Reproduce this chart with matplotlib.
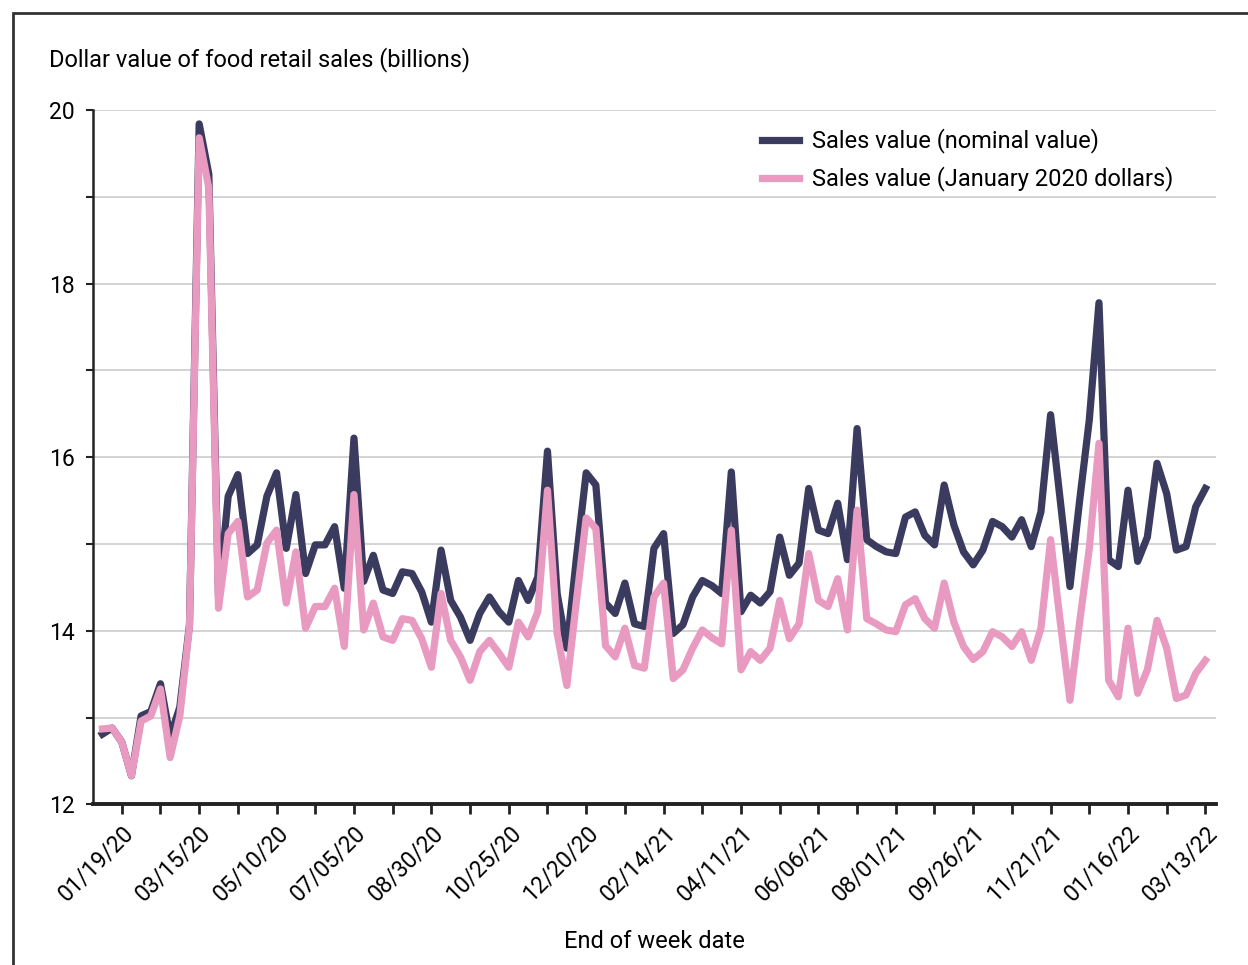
import matplotlib
matplotlib.use("Agg")
import matplotlib.pyplot as plt
from matplotlib.patches import Rectangle
import pandas as pd

plt.rcParams['font.family'] = ['Roboto', 'DejaVu Sans']

# weekly series, weeks ending 01/05/20 .. 03/13/22
weeks = pd.date_range('2020-01-05', periods=115, freq='7D')

nominal = [12.81, 12.88, 12.72, 12.33, 13.02, 13.07, 13.39, 12.78, 13.12, 14.07,
           19.84, 19.26,
           14.39, 15.55, 15.80, 14.89, 14.99, 15.55, 15.82, 14.95, 15.57, 14.66,
           14.99, 14.99, 15.20, 14.49, 16.22, 14.57, 14.87,
           14.47, 14.43, 14.68, 14.66, 14.45, 14.10, 14.93, 14.35, 14.16, 13.89,
           14.20, 14.39, 14.22, 14.10, 14.58, 14.35, 14.62,
           16.07, 14.43, 13.80, 14.85, 15.82, 15.68, 14.32, 14.20, 14.55, 14.08,
           14.05, 14.95, 15.12, 13.97, 14.07, 14.39, 14.58, 14.52,
           14.43, 15.83, 14.22, 14.41, 14.32, 14.45, 15.08, 14.64, 14.78, 15.64,
           15.16, 15.12, 15.47, 14.82, 16.33, 15.05, 14.97, 14.91, 14.89,
           15.31, 15.37, 15.10, 14.99, 15.68, 15.22, 14.91, 14.76, 14.93, 15.26,
           15.20, 15.08, 15.28, 14.97, 15.37, 16.49, 15.50, 14.51, 15.50, 16.43,
           17.78, 14.82, 14.74, 15.62, 14.80, 15.08, 15.93, 15.58, 14.93, 14.97,
           15.43, 15.64]

real_jan2020 = [12.87, 12.88, 12.72, 12.33, 12.96, 13.02, 13.33, 12.54, 13.02, 14.05,
                19.68, 19.10,
                14.26, 15.12, 15.26, 14.39, 14.47, 15.01, 15.16, 14.32, 14.91, 14.03,
                14.28, 14.28, 14.49, 13.82, 15.57, 14.01, 14.32,
                13.93, 13.89, 14.14, 14.12, 13.91, 13.58, 14.43, 13.89, 13.70, 13.43,
                13.76, 13.89, 13.74, 13.58, 14.10, 13.93, 14.22,
                15.62, 13.97, 13.37, 14.35, 15.30, 15.18, 13.83, 13.70, 14.03, 13.60,
                13.57, 14.39, 14.55, 13.45, 13.55, 13.80, 14.01, 13.92,
                13.85, 15.16, 13.55, 13.76, 13.66, 13.80, 14.35, 13.91, 14.08, 14.89,
                14.35, 14.28, 14.60, 14.01, 15.39, 14.14, 14.08, 14.01, 13.99,
                14.30, 14.37, 14.14, 14.03, 14.55, 14.10, 13.82, 13.67, 13.76, 13.99,
                13.93, 13.82, 13.99, 13.66, 14.03, 15.05, 14.10, 13.20, 14.10, 14.95,
                16.16, 13.43, 13.24, 14.03, 13.28, 13.55, 14.12, 13.80, 13.22, 13.26,
                13.51, 13.66]

labels = ['Sales value (nominal value)', 'Sales value (January 2020 dollars)']
navy = '#3b3a5f'
pink = '#e89ac1'

fig = plt.figure(figsize=(12.48, 9.65), dpi=100)
ax = fig.add_axes([0.0743, 0.1664, 0.9001, 0.7196])

ax.plot(weeks, nominal, color=navy, lw=5.2, label=labels[0], solid_joinstyle='round')
ax.plot(weeks, real_jan2020, color=pink, lw=5.2, label=labels[1], solid_joinstyle='round')

ax.set_ylim(12, 20)
ax.set_yticks([12, 14, 16, 18, 20])
ax.set_yticks([13, 15, 17, 19], minor=True)
ax.grid(axis='y', which='both', color='#cccccc', lw=1.2)
ax.set_axisbelow(True)

ax.set_xlim(weeks[0] - pd.Timedelta(days=7), weeks[-1] + pd.Timedelta(days=7.7))
ax.set_xticks(weeks[2::4])
ax.set_xticklabels([d.strftime('%m/%d/%y') if k % 2 == 0 else '' for k, d in enumerate(weeks[2::4])],
                   rotation=45, ha='right', rotation_mode='anchor')

ax.tick_params(axis='x', length=7, width=2, color='#222222', labelsize=16.5, pad=5)
ax.tick_params(axis='y', which='both', length=5, width=1.5, color='#222222', labelsize=16.5, pad=8)
for s in ['top', 'right']:
    ax.spines[s].set_visible(False)
ax.spines['left'].set_linewidth(1.8)
ax.spines['bottom'].set_linewidth(2.8)
ax.spines['left'].set_color('#222222')
ax.spines['bottom'].set_color('#222222')

ax.set_xlabel('End of week date', fontsize=17, labelpad=18)
fig.text(49 / 1248, 1 - 60 / 965, 'Dollar value of food retail sales (billions)',
         fontsize=17, va='center', ha='left')

ax.legend(loc='upper left', bbox_to_anchor=(0.577, 1.004), frameon=False, fontsize=17,
          handlelength=1.55, handletextpad=0.55, labelspacing=0.55)

fig.patches.append(Rectangle((13 / 1248, -0.2), 1.5, 1.2 - 13 / 965, transform=fig.transFigure,
                             fill=False, edgecolor='#333333', lw=2))

fig.savefig('out.png', dpi=100)
